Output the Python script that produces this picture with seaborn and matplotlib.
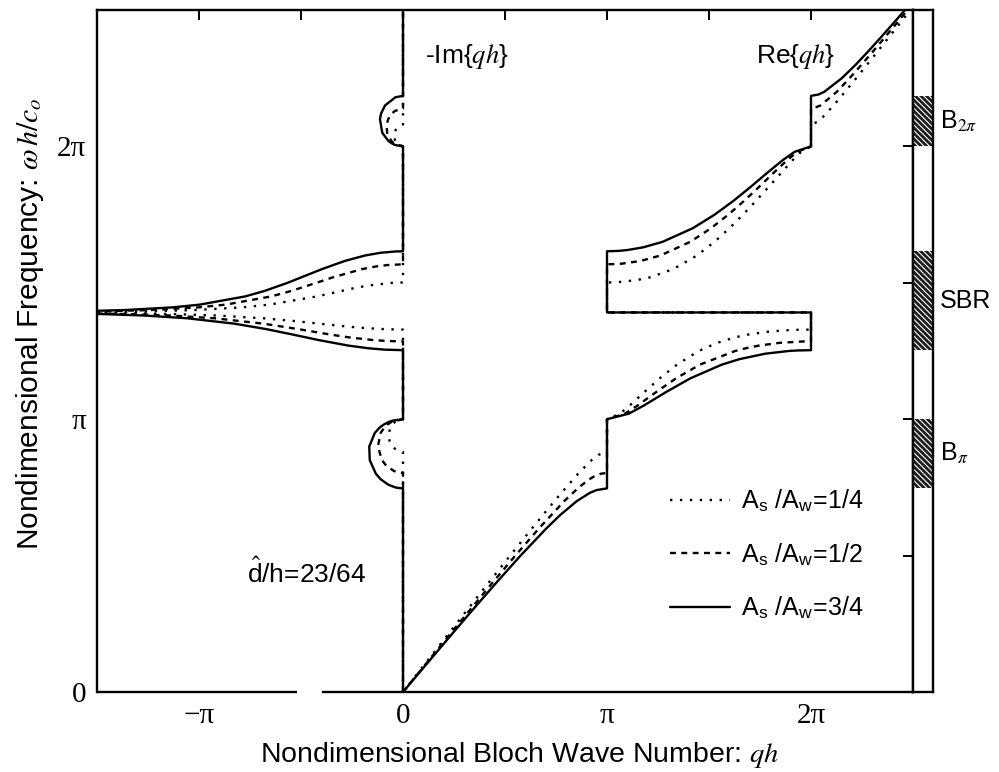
import numpy as np
import pandas as pd
import matplotlib
matplotlib.use("Agg")
import matplotlib.pyplot as plt
import seaborn as sns

# Bloch dispersion of a duct with periodic side branches.
# Frequency (omega h / c0) and wave number (q h) are both given in units of pi.

# --- A_s/A_w = 1/4 ---------------------------------------------------------
omega_re_14 = [0, 0.1, 0.2, 0.3, 0.4, 0.5, 0.6, 0.7, 0.8, 0.85, 0.87, 0.8796,
               1.0, 1.02, 1.05, 1.1, 1.15, 1.2, 1.25, 1.28, 1.3, 1.31, 1.32, 1.325, 1.3275, 1.3285,
               1.3913, 1.3913,
               1.5011, 1.502, 1.51, 1.52, 1.55, 1.6, 1.65, 1.7, 1.75, 1.8, 1.85, 1.9, 1.95, 1.98, 2.0,
               2.0803, 2.09, 2.1, 2.15, 2.2, 2.25, 2.3, 2.35, 2.4, 2.45, 2.5]
re_14 = [0, 0.1044, 0.2092, 0.3138, 0.4191, 0.5252, 0.6326, 0.7423, 0.8582, 0.9245, 0.9600, 1.0,
         1.0, 1.0631, 1.1113, 1.1838, 1.2586, 1.3427, 1.4496, 1.5399, 1.6274, 1.6894, 1.7805, 1.8555, 1.9197, 2.0,
         2.0, 1.0,
         1.0, 1.0481, 1.1467, 1.2104, 1.3240, 1.4404, 1.5266, 1.6001, 1.6669, 1.7299, 1.7904, 1.8504, 1.9106, 1.9507, 2.0,
         2.0, 2.0321, 2.0482, 2.1106, 2.1667, 2.2215, 2.2751, 2.3284, 2.3814, 2.4343, 2.4869]
omega_im_14 = [0, 0.8796, 0.885, 0.9, 0.92, 0.95, 0.97, 0.98, 0.99, 1.0,
               1.3285, 1.33, 1.335, 1.34, 1.35, 1.36, 1.37, 1.38, 1.385, 1.388, 1.38995,
               1.39269, 1.395, 1.40, 1.41, 1.42, 1.45, 1.46, 1.48, 1.49, 1.5, 1.5011,
               2.0, 2.01, 2.02, 2.035, 2.05, 2.07, 2.0803, 2.5]
im_14 = [0, 0, 0.0288, 0.0521, 0.0658, 0.0692, 0.0610, 0.0527, 0.0393, 0,
         0, 0.0928, 0.2029, 0.2783, 0.4065, 0.5343, 0.6858, 0.9094, 1.1044, 1.3148, 1.6,
         1.6, 1.2886, 1.0220, 0.7868, 0.6555, 0.4223, 0.3624, 0.2425, 0.1712, 0.0522, 0,
         0, 0.0291, 0.0381, 0.0436, 0.0426, 0.0293, 0, 0]

# --- A_s/A_w = 1/2 ---------------------------------------------------------
omega_re_12 = [0, 0.1, 0.2, 0.3, 0.4, 0.5, 0.6, 0.7, 0.75, 0.78, 0.79, 0.8, 0.8032,
               1.0, 1.02, 1.05, 1.1, 1.15, 1.2, 1.25, 1.26, 1.27, 1.28, 1.285, 1.2853,
               1.3913, 1.3913,
               1.5677, 1.57, 1.58, 1.6, 1.65, 1.7, 1.75, 1.8, 1.85, 1.9, 1.95, 1.98, 2.0,
               2.1391, 2.14, 2.15, 2.2, 2.25, 2.3, 2.35, 2.4, 2.45, 2.5]
re_12 = [0, 0.1086, 0.2176, 0.3272, 0.4380, 0.5506, 0.6668, 0.7907, 0.8618, 0.9137, 0.9364, 0.9696, 1.0,
         1.0, 1.0871, 1.1497, 1.2418, 1.3389, 1.4555, 1.6280, 1.6800, 1.7462, 1.8475, 1.9611, 2.0,
         2.0, 1.0,
         1.0, 1.0717, 1.1637, 1.2616, 1.4074, 1.5098, 1.5950, 1.6716, 1.7432, 1.8124, 1.8838, 1.9331, 2.0,
         2.0, 2.0126, 2.0463, 2.1263, 2.1892, 2.2484, 2.3059, 2.3624, 2.4183, 2.4737]
omega_im_12 = [0, 0.8032, 0.805, 0.81, 0.83, 0.85, 0.9, 0.95, 0.97, 0.98, 0.99, 1.0,
               1.2853, 1.2865, 1.29, 1.3, 1.31, 1.33, 1.35, 1.37, 1.38, 1.385, 1.38859,
               1.39407, 1.395, 1.40, 1.41, 1.42, 1.45, 1.47, 1.5, 1.52, 1.55, 1.56, 1.565, 1.5677,
               2.0, 2.01, 2.02, 2.05, 2.08, 2.1, 2.12, 2.13, 2.1391, 2.5]
im_12 = [0, 0, 0.0231, 0.0439, 0.0827, 0.1032, 0.1231, 0.1093, 0.0911, 0.0770, 0.0565, 0,
         0, 0.0737, 0.1457, 0.2650, 0.3538, 0.5116, 0.6820, 0.9239, 1.1375, 1.3288, 1.6,
         1.6, 1.5077, 1.239, 1.0016, 0.8698, 0.6466, 0.5483, 0.4241, 0.3438, 0.2014, 0.1313, 0.0773, 0,
         0, 0.0424, 0.0575, 0.0780, 0.0800, 0.0725, 0.0555, 0.0398, 0, 0]

# --- A_s/A_w = 3/4 ---------------------------------------------------------
omega_re_34 = [0, 0.1, 0.2, 0.3, 0.4, 0.5, 0.6, 0.65, 0.7, 0.73, 0.74, 0.7465,
               1.0, 1.02, 1.05, 1.1, 1.15, 1.2, 1.22, 1.24, 1.25, 1.252, 1.253,
               1.3913, 1.3913,
               1.6155, 1.617, 1.62, 1.63, 1.65, 1.7, 1.75, 1.8, 1.85, 1.9, 1.95, 1.98, 2.0,
               2.1853, 2.19, 2.2, 2.25, 2.3, 2.35, 2.4, 2.45, 2.5]
re_34 = [0, 0.1127, 0.2259, 0.3403, 0.4566, 0.5763, 0.7031, 0.7724, 0.8525, 0.9159, 0.9482, 1.0,
         1.0, 1.1059, 1.1805, 1.2906, 1.4091, 1.5627, 1.6486, 1.7746, 1.8899, 1.9360, 2.0,
         2.0, 1.0,
         1.0, 1.0566, 1.0990, 1.1772, 1.2718, 1.4204, 1.5279, 1.6191, 1.7017, 1.7804, 1.8622, 1.9193, 2.0,
         2.0, 2.0356, 2.0649, 2.1511, 2.2198, 2.2824, 2.3430, 2.4022, 2.4605]
omega_im_34 = [0, 0.7465, 0.748, 0.75, 0.76, 0.78, 0.8, 0.85, 0.9, 0.95, 0.97, 0.98, 0.99, 0.995, 1.0,
               1.253, 1.255, 1.26, 1.27, 1.29, 1.31, 1.33, 1.35, 1.37, 1.38, 1.385, 1.38723,
               1.39545, 1.40, 1.41, 1.42, 1.45, 1.47, 1.5, 1.55, 1.58, 1.6, 1.61, 1.615, 1.6155,
               2.0, 2.005, 2.01, 2.02, 2.05, 2.1, 2.12, 2.15, 2.18, 2.1853, 2.5]
im_34 = [0, 0, 0.0225, 0.0376, 0.0724, 0.1097, 0.1330, 0.1630, 0.1654, 0.1380, 0.1134, 0.0952, 0.0694, 0.0497, 0,
         0, 0.0900, 0.1699, 0.2693, 0.4130, 0.5386, 0.6686, 0.8246, 1.0581, 1.2689, 1.459, 1.6,
         1.6, 1.3668, 1.1284, 0.9962, 0.7743, 0.6794, 0.5656, 0.3979, 0.2856, 0.1865, 0.1107, 0.0345, 0,
         0, 0.0379, 0.0524, 0.0718, 0.1017, 0.1129, 0.1078, 0.0882, 0.0375, 0, 0]

# Stop bands of the A_s/A_w = 3/4 duct, shown in the strip on the right
gap_lo = [0.7465, 1.253, 2.0]
gap_hi = [1.0, 1.6155, 2.1853]
gap_names = [r"B$_{\pi}$", "SBR", r"B$_{2\pi}$"]

ratio_labels = [r"A$_\mathdefault{s}$ /A$_\mathdefault{w}$=1/4",
                r"A$_\mathdefault{s}$ /A$_\mathdefault{w}$=1/2",
                r"A$_\mathdefault{s}$ /A$_\mathdefault{w}$=3/4"]

x_ticks = [-1, -0.5, 0, 0.5, 1, 1.5, 2]
x_ticklabels = ["\u2212\u03c0", "", "0", "", "\u03c0", "", "2\u03c0"]
y_ticks = [0, 0.5, 1, 1.5, 2]
y_ticklabels = ["0", "", "\u03c0", "", "2\u03c0"]

sns.set_style("white")
plt.rcParams["font.family"] = ["Liberation Sans", "DejaVu Sans"]
plt.rcParams["mathtext.fontset"] = "stix"
plt.rcParams["text.color"] = "black"
plt.rcParams["axes.labelcolor"] = "black"
plt.rcParams["xtick.color"] = "black"
plt.rcParams["ytick.color"] = "black"
plt.rcParams["hatch.color"] = "white"
plt.rcParams["hatch.linewidth"] = 0.8

LW = 1.7
styles = [(0, (1.0, 3.2)), (0, (2.5, 2.3)), "-"]

fig = plt.figure(figsize=(9.99, 7.72), dpi=100)
ax = fig.add_axes([97 / 999, 80 / 772, 816 / 999, 682 / 772])

curves = [
    (omega_re_14, re_14, omega_im_14, im_14),
    (omega_re_12, re_12, omega_im_12, im_12),
    (omega_re_34, re_34, omega_im_34, im_34),
]

handles = []
for (w_re, re, w_im, im), ls in zip(curves, styles):
    df_im = pd.DataFrame({"qh": -np.asarray(im), "omega": w_im})
    sns.lineplot(data=df_im, x="qh", y="omega", sort=False, estimator=None,
                 ax=ax, color="black", lw=LW, linestyle=ls)
    df_re = pd.DataFrame({"qh": re, "omega": w_re})
    sns.lineplot(data=df_re, x="qh", y="omega", sort=False, estimator=None,
                 ax=ax, color="black", lw=LW, linestyle=ls)
    handles.append(ax.lines[-1])

ax.set_xlim(-1.5, 2.5)
ax.set_ylim(0, 2.5)
ax.set_xticks(x_ticks)
ax.set_xticklabels(x_ticklabels, family="Liberation Serif", fontsize=21)
ax.set_yticks(y_ticks)
ax.set_yticklabels(y_ticklabels, family="Liberation Serif", fontsize=21)
ax.tick_params(direction="in", length=7, width=1.4, top=True, right=True,
               color="black", labelcolor="black")
ax.tick_params(axis="x", pad=8)
ax.tick_params(axis="y", pad=8)
for sp in ax.spines.values():
    sp.set_linewidth(LW)
    sp.set_color("black")
# break in the lower frame line
ax.spines["bottom"].set_bounds(-0.39, 2.5)
ax.axhline(0, xmin=0, xmax=(1.5 - 0.52) / 4.0, color="black", lw=LW,
           clip_on=False, solid_capstyle="butt")

ax.set_xlabel("Nondimensional Bloch Wave Number: $qh$", fontsize=20.5)
ax.xaxis.label.set_va("baseline")
ax.xaxis.set_label_coords(0.518, -0.1026)
ax.set_ylabel(r"Nondimensional Frequency: $\omega\, h/c_o$", fontsize=21.5)
ax.yaxis.label.set_va("center")
ax.yaxis.set_label_coords(-0.0821, 0.5396)

ax.text(0.108, 2.33, "-Im{$qh$}", fontsize=19, ha="left", va="center")
ax.text(1.731, 2.33, "Re{$qh$}", fontsize=19, ha="left", va="center")
ax.text(-0.763, 0.436, r"$\hat{\mathdefault{d}}$/h=23/64", fontsize=19, ha="left", va="center")

ax.legend(handles, ratio_labels, loc="upper left", bbox_to_anchor=(0.702, 0.300),
          frameon=False, fontsize=18, handlelength=2.4, handletextpad=0.45,
          labelspacing=1.1, borderpad=0, borderaxespad=0)

# stop-band strip
sax = fig.add_axes([913 / 999, 80 / 772, 20 / 999, 682 / 772])
sax.set_xlim(0, 1)
sax.set_ylim(0, 2.5)
sax.set_xticks([])
sax.set_yticks([])
for sp in sax.spines.values():
    sp.set_linewidth(LW)
    sp.set_color("black")
lo = np.asarray(gap_lo)
hi = np.asarray(gap_hi)
sax.bar(x=0.5, height=hi - lo, bottom=lo, width=1.0, color="#1e1e1e",
        edgecolor="white", linewidth=0, hatch="\\\\\\\\\\\\")
for y0, y1, name in zip(gap_lo, gap_hi, gap_names):
    sax.text(1.35, (y0 + y1) / 2, name, fontsize=18, ha="left", va="center")

fig.savefig("out.png", dpi=100, facecolor="white")
